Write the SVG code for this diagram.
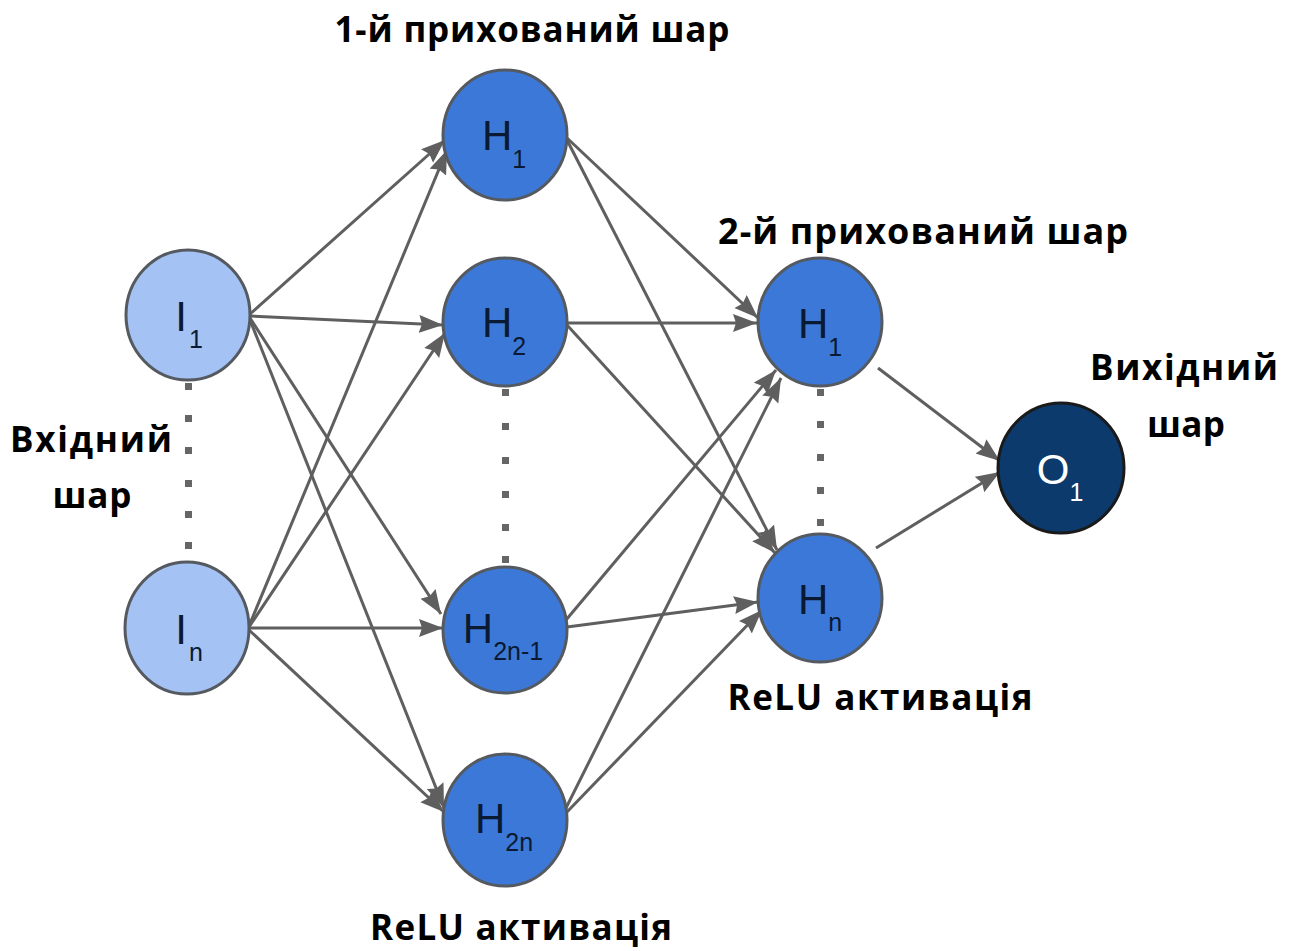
<svg xmlns="http://www.w3.org/2000/svg" width="1298" height="951" viewBox="0 0 1298 951">
  <style>
    .conn line { stroke: #5f5f5f; stroke-width: 3; fill: none; marker-end: url(#arrow); }
    .in   { fill: #a4c2f4; stroke: #555a60; stroke-width: 3; }
    .hid  { fill: #3c78d8; stroke: #555a60; stroke-width: 3; }
    .out  { fill: #0c3a6c; stroke: #1a1a1a; stroke-width: 3; }
    .lbl  { font-family: Arial, "Liberation Sans", sans-serif; font-size: 42px; fill: #0a1a33; text-anchor: middle; }
    .lbl-w { fill: #ffffff; }
    .sub  { font-size: 25px; }
    .title { font-family: "Open Sans", "Noto Sans", "DejaVu Sans", sans-serif; font-weight: 700; fill: #000; text-anchor: middle; }
    .dot  { fill: #666666; }
  </style>
  <defs>
    <marker id="arrow" markerUnits="userSpaceOnUse" markerWidth="26" markerHeight="20" refX="24" refY="9" orient="auto">
      <path d="M0,0 L24,9 L0,18 L3,9 z" fill="#5f5f5f"/>
    </marker>
  </defs>

  <rect width="1298" height="951" fill="#ffffff"/>

  <!-- connectors -->
  <g id="connectors" class="conn">
    <!-- input layer -> hidden layer 1 -->
    <line x1="250" y1="314" x2="445" y2="140"/>
    <line x1="250" y1="316" x2="443" y2="325"/>
    <line x1="250" y1="318" x2="441" y2="614"/>
    <line x1="250" y1="320" x2="444" y2="808"/>
    <line x1="249" y1="626" x2="447" y2="150"/>
    <line x1="249" y1="627" x2="445" y2="333"/>
    <line x1="249" y1="628" x2="443" y2="628"/>
    <line x1="249" y1="630" x2="444" y2="812"/>
    <!-- hidden layer 1 -> hidden layer 2 -->
    <line x1="567" y1="138" x2="758" y2="318"/>
    <line x1="567" y1="140" x2="777" y2="550"/>
    <line x1="567" y1="323" x2="757" y2="323"/>
    <line x1="567" y1="325" x2="775" y2="553"/>
    <line x1="566" y1="620" x2="776" y2="370"/>
    <line x1="567" y1="627" x2="758" y2="602"/>
    <line x1="565" y1="810" x2="781" y2="378"/>
    <line x1="566" y1="813" x2="762" y2="610"/>
    <!-- hidden layer 2 -> output -->
    <line x1="878" y1="368" x2="1000" y2="461"/>
    <line x1="876" y1="548" x2="1000" y2="472"/>
  </g>

  <!-- vertical ellipsis dots -->
  <g id="ellipsis-input">
    <rect class="dot" x="185" y="383" width="7" height="7"/>
    <rect class="dot" x="185" y="415" width="7" height="7"/>
    <rect class="dot" x="185" y="447" width="7" height="7"/>
    <rect class="dot" x="185" y="480" width="7" height="7"/>
    <rect class="dot" x="185" y="511" width="7" height="7"/>
    <rect class="dot" x="185" y="542" width="7" height="7"/>
  </g>
  <g id="ellipsis-hidden1">
    <rect class="dot" x="502" y="389" width="7" height="7"/>
    <rect class="dot" x="502" y="423" width="7" height="7"/>
    <rect class="dot" x="502" y="457" width="7" height="7"/>
    <rect class="dot" x="502" y="491" width="7" height="7"/>
    <rect class="dot" x="502" y="524" width="7" height="7"/>
    <rect class="dot" x="502" y="556" width="7" height="7"/>
  </g>
  <g id="ellipsis-hidden2">
    <rect class="dot" x="817" y="389" width="7" height="7"/>
    <rect class="dot" x="817" y="421" width="7" height="7"/>
    <rect class="dot" x="817" y="454" width="7" height="7"/>
    <rect class="dot" x="817" y="487" width="7" height="7"/>
    <rect class="dot" x="817" y="519" width="7" height="7"/>
  </g>

  <!-- input layer -->
  <g id="node-I1">
    <ellipse class="in" cx="188" cy="315" rx="62" ry="65"/>
    <text class="lbl" x="189" y="331">I<tspan class="sub" dx="2" dy="17">1</tspan></text>
  </g>
  <g id="node-In">
    <ellipse class="in" cx="187" cy="628" rx="62" ry="66"/>
    <text class="lbl" x="189" y="644">I<tspan class="sub" dx="2" dy="17">n</tspan></text>
  </g>

  <!-- hidden layer 1 -->
  <g id="node-H1-a">
    <ellipse class="hid" cx="505" cy="135" rx="62" ry="65"/>
    <text class="lbl" x="504" y="150">H<tspan class="sub" dy="18">1</tspan></text>
  </g>
  <g id="node-H2">
    <ellipse class="hid" cx="505" cy="322" rx="62" ry="64"/>
    <text class="lbl" x="504" y="337">H<tspan class="sub" dy="18">2</tspan></text>
  </g>
  <g id="node-H2n-1">
    <ellipse class="hid" cx="505" cy="630" rx="62" ry="63"/>
    <text class="lbl" x="503" y="643">H<tspan class="sub" dy="17">2n-1</tspan></text>
  </g>
  <g id="node-H2n">
    <ellipse class="hid" cx="505" cy="820" rx="62" ry="66"/>
    <text class="lbl" x="504" y="833">H<tspan class="sub" dy="18">2n</tspan></text>
  </g>

  <!-- hidden layer 2 -->
  <g id="node-H1-b">
    <ellipse class="hid" cx="820" cy="322" rx="62" ry="64"/>
    <text class="lbl" x="820" y="338">H<tspan class="sub" dy="18">1</tspan></text>
  </g>
  <g id="node-Hn">
    <ellipse class="hid" cx="820" cy="598" rx="62" ry="64"/>
    <text class="lbl" x="820" y="614">H<tspan class="sub" dy="17">n</tspan></text>
  </g>

  <!-- output layer -->
  <g id="node-O1">
    <ellipse class="out" cx="1061" cy="468" rx="63" ry="65"/>
    <text class="lbl lbl-w" x="1060" y="484">O<tspan class="sub" dy="17">1</tspan></text>
  </g>

  <!-- layer captions -->
  <g id="captions">
    <text class="title" x="532" y="42" font-size="35" textLength="395" lengthAdjust="spacing">1-й прихований шар</text>
    <text class="title" x="923" y="244" font-size="36" textLength="410" lengthAdjust="spacing">2-й прихований шар</text>
    <text class="title" x="1184" y="380" font-size="35" textLength="188" lengthAdjust="spacing">Вихідний</text>
    <text class="title" x="1186" y="437" font-size="35" textLength="78" lengthAdjust="spacing">шар</text>
    <text class="title" x="91" y="452" font-size="35" textLength="162" lengthAdjust="spacing">Вхідний</text>
    <text class="title" x="92" y="508" font-size="35" textLength="79" lengthAdjust="spacing">шар</text>
    <text class="title" x="880" y="710" font-size="35" textLength="305" lengthAdjust="spacing">ReLU активація</text>
    <text class="title" x="521" y="940" font-size="35" textLength="302" lengthAdjust="spacing">ReLU активація</text>
  </g>
</svg>
